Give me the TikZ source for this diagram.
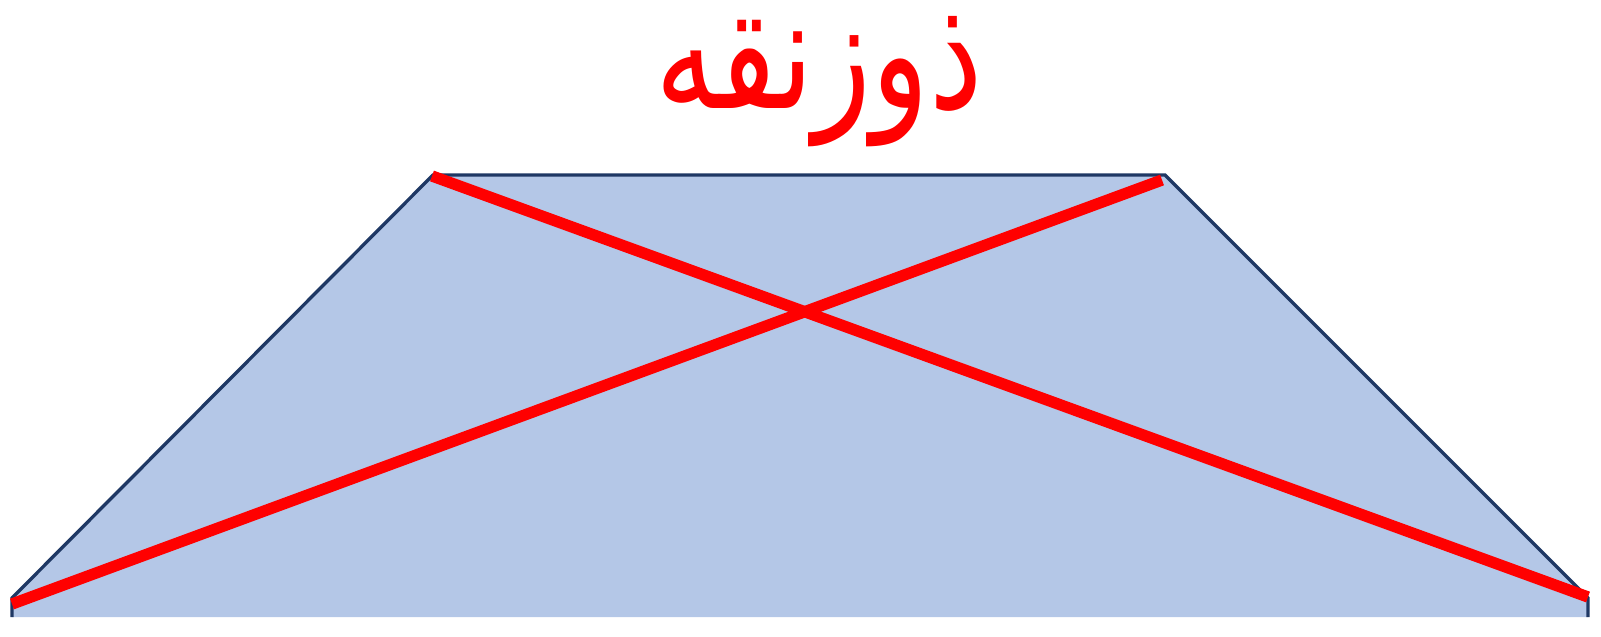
\documentclass[tikz,border=0pt]{standalone}
\usepackage{fontspec}
\newfontfamily\arabicfont[Script=Arabic]{DejaVu Sans}
\TeXXeTstate=1
\usetikzlibrary{positioning}
\definecolor{trapfill}{RGB}{180,199,231}
\definecolor{trapline}{RGB}{31,56,100}
\definecolor{diagred}{RGB}{255,0,0}

\begin{document}
\begin{tikzpicture}[x=0.75pt,y=0.75pt,yscale=-1,xscale=1]
\useasboundingbox (0,0) rectangle (1601,636);

%Coordinates of the corners
\coordinate (tl) at (433,175);
\coordinate (tr) at (1165,175);
\coordinate (bl) at (12,598);
\coordinate (br) at (1588,598);
\coordinate (blc) at (12,617);
\coordinate (brc) at (1588,617);

%Shape: Trapezoid [fill]
\fill [trapfill] (blc) -- (bl) -- (tl) -- (tr) -- (br) -- (brc) -- cycle ;
%Shape: Trapezoid [outline]
\draw [trapline, line width=2.5pt] (blc) -- (bl) -- (tl) -- (tr) -- (br) -- (brc) ;

%Straight Lines [diagonals]
\coordinate (d1s) at (432,176);
\coordinate (d1e) at (1588,597);
\coordinate (d2s) at (12,604);
\coordinate (d2e) at (1162,180);
\draw [diagred, line width=8.5pt] (d1s) -- (d1e) ;
\draw [diagred, line width=8.5pt] (d2s) -- (d2e) ;

% Text Node
\node (title) [inner sep=0pt, text=diagred, font=\arabicfont\fontsize{90}{100}\selectfont] at (819,82) {\scalebox{1}[1.31]{\beginR ذوزنقه\endR}};

\end{tikzpicture}
\end{document}
